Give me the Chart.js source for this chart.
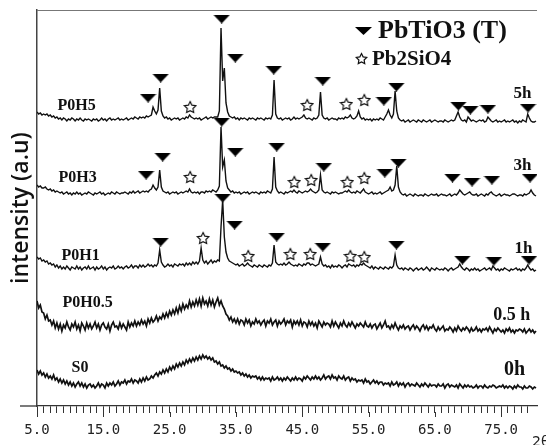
<!DOCTYPE html>
<html>
<head>
<meta charset="utf-8">
<script src="https://cdn.jsdelivr.net/npm/chart.js@4.4.1/dist/chart.umd.min.js"></script>
<style>
  html, body { margin: 0; padding: 0; background: #fff; }
  #xrd { display: block; }
</style>
</head>
<body>
<canvas id="xrd" width="546" height="445"></canvas>
<script>
// 2theta grid, 0.25 deg steps from 5.0
var twoTheta = [];
for (var i = 0; i < 302; i++) twoTheta.push(5 + i * 0.25);

var sampleNames = ['S0', 'P0H0.5', 'P0H1', 'P0H3', 'P0H5'];
var timeLabels = ['0h', '0.5 h', '1h', '3h', '5h'];
// vertical stacking of the patterns (a.u.)
var offsets = [21, 81, 139, 213, 287];

// intensities above each baseline
var s0 = [
  15,11,14,10, 12,8,11,7, 9,6,10,5, 7,3,6,2, 5,1,4,0,
  3,-1,2,-2, 1,3,-1,2, -2,1,-3,0, 1,-2,0,-3, -1,2,-2,1,
  0,-3,2,-1, 2,0,3,-1, 1,4,0,3, 2,5,1,4, 3,6,2,5,
  4,2,6,3, 7,4,8,5, 6,9,7,10, 12,9,13,11, 15,12,16,13,
  18,15,19,16, 21,18,22,19, 23,20,25,22, 26,23,27,24, 28,25,29,26,
  30,27,29,26, 28,25,27,23, 24,21,23,19, 20,17,19,16, 17,14,16,13,
  14,12,13,10, 12,9,11,8, 10,7,9,8, 9,6,8,5, 8,5,7,6,
  7,4,8,5, 6,8,5,7, 4,7,5,8, 6,4,7,5, 8,5,7,6,
  4,8,6,9, 7,5,8,6, 9,6,8,5, 7,10,6,8, 9,6,10,7,
  8,5,9,7, 6,9,5,7, 8,4,7,5, 6,3,5,4, 5,2,6,3,
  4,1,3,5, 2,4,1,3, 3,0,2,1, 2,-1,3,0, 1,3,-1,2,
  0,2,-2,1, 2,-1,1,0, -1,2,0,-2, 1,-1,2,0, -2,1,-1,0,
  0,-2,1,-1, -1,1,-3,0, 1,-2,0,-1, -2,0,-3,1, -1,-3,0,-2,
  0,-2,-1,-3, -2,0,-3,-1, -1,-3,0,-2, -3,-1,-2,0, -1,-3,-2,-1,
  -2,0,-3,-1, -3,-1,-2,-4, -1,-3,0,-2, -2,-4,-1,-3, -3,-1,-2,-4,
  -2,-3
];
var p0h05 = [
  24,17,20,13, 12,6,10,4, 5,0,4,-3, 2,-4,1,-6, 0,-3,3,-2,
  -5,1,-2,3, -4,0,-6,2, -1,-5,2,-3, 1,-4,-1,3, -3,1,-5,0,
  2,-2,-4,1, -6,0,3,-2, -1,-4,2,-3, 1,-2,-5,3, -2,2,-1,4,
  -1,3,0,5, 1,4,-1,6, 2,7,3,5, 9,4,8,6, 11,7,12,8,
  14,10,15,11, 17,12,19,14, 21,16,20,17, 24,18,23,19, 25,20,26,19,
  27,21,24,19, 26,20,25,18, 23,27,20,24, 19,16,11,9, 5,8,3,6,
  2,6,1,5, 4,0,6,2, 5,-1,3,1, 6,2,4,0, 3,5,-1,4,
  2,6,0,3, 5,-1,4,1, 3,6,0,4, 2,5,-2,4, 1,4,0,5,
  -1,3,2,-2, 4,0,3,-1, 2,-3,4,1, -2,3,0,2, 1,-2,4,-1,
  3,0,-3,2, -1,4,0,-2, 2,-1,3,0, -3,1,-1,2, 0,-2,3,-1,
  -2,1,-3,0, 1,-4,-1,2, -3,0,4,-2, -1,-4,0,-3, 2,-2,-5,-1,
  -3,0,-4,-2, -1,-5,-2,0, -4,-1,-3,-6, -2,0,-4,-1, -5,-2,-3,0,
  -4,-6,-2,-5, -3,-1,-6,-4, -5,-2,-4,-7, -3,-6,-1,-4, -6,-3,-5,-2,
  -4,-7,-3,-6, -5,-2,-6,-4, -7,-4,-5,-3, -6,-2,-5,-8, -4,-6,-3,-5,
  -7,-5,-8,-4, -6,-3,-7,-5, -8,-5,-6,-4, -5,-7,-4,-8, -6,-4,-7,-5,
  -8,-6
];
var p0h1 = [
  10,8,9,6, 7,5,6,3, 4,2,3,0, 2,-1,1,-2, 0,-2,1,-1,
  -3,0,-1,-2, 1,-2,0,-3, -1,0,-2,1, -2,-1,0,-3, 0,-2,-1,1,
  -2,0,-3,-1, 0,-1,1,-2, -1,1,-1,0, -2,0,1,-1, 0,2,-1,1,
  1,-1,2,0, 2,0,1,3, 1,2,0,2, 1,4,17,5, 2,0,1,3,
  1,2,0,3, 2,1,3,2, 3,1,4,2, 4,2,5,3, 5,3,6,19,
  7,4,6,3, 5,7,4,6, 5,7,6,40, 67,30,15,9, 6,5,4,3,
  2,3,1,2, 3,1,2,4, 2,1,0,2, 1,0,2,1, 0,2,1,0,
  2,1,4,22, 5,3,2,3, 2,4,2,3, 5,3,2,1, 2,1,3,2,
  1,3,2,4, 4,2,3,2, 1,2,3,10, 3,1,2,0, 1,-1,2,0,
  1,0,2,1, -1,1,2,0, 3,2,1,2, 0,2,1,3, 2,4,2,1,
  0,-1,1,-2, 0,-1,-2,0, -1,-2,0,-1, -2,0,-1,1, 12,2,-1,-2,
  -1,-3,-1,-2, -3,-1,-2,-4, -2,-1,-3,-2, -1,-3,-2,0, -2,-4,-1,-2,
  -3,-1,-2,-3, -2,-3,-1,-2, -4,-2,-1,-3, -2,-1,0,3, 0,-2,-3,-1,
  -2,-4,-2,-3, -1,-3,-2,-4, -3,-2,-1,-3, -2,-1,-3,1, -1,-3,-2,-4,
  -2,-3,-1,-2, -3,-4,-2,-3, -2,-1,-3,-2, -4,-2,-3,-1, 2,-1,-3,-2,
  -4,-3
];
var p0h3 = [
  8,6,7,5, 5,6,4,3, 4,2,3,1, 2,1,0,1, -1,0,1,-1,
  0,-2,0,-1, 1,-1,0,-2, -1,0,-1,1, 0,-1,-2,0, -1,0,1,-1,
  0,-2,-1,0, -1,1,0,-1, 1,0,-1,0, 0,1,0,-1, 1,0,2,0,
  1,2,0,1, 2,1,2,1, 3,4,8,5, 3,6,23,6, 2,1,0,1,
  -1,0,1,0, 1,-1,0,1, 0,1,2,1, 4,1,0,1, 0,1,-1,1,
  1,0,2,1, 2,1,3,2, 1,3,7,66, 26,33,12,5, 3,1,2,0,
  1,0,1,-1, 0,1,0,1, -1,0,1,0, 1,0,-1,1, 0,1,0,2,
  1,0,4,36, 6,2,0,1, 0,-1,1,0, 1,2,1,3, 1,0,2,1,
  0,1,2,1, 2,4,2,1, 0,1,3,18, 3,1,0,1, 0,-1,1,0,
  1,0,-1,0, 0,1,2,1, 3,1,0,1, 0,2,1,0, 2,4,1,0,
  -1,0,1,-1, 0,-1,0,1, -1,0,1,2, 3,6,2,3, 8,27,6,1,
  -1,-2,-1,-3, -2,-1,-2,-3, -1,-2,-3,-2, -2,-3,-1,-2, -3,-2,-1,-2,
  -2,-1,-3,-2, -1,-2,-2,-3, -2,-1,-3,-2, -1,-2,0,3, 1,-1,-2,-1,
  0,1,-1,-2, -2,-1,-3,-2, -1,-2,-3,-1, -2,0,1,-1, -2,-3,-2,-1,
  -3,-2,-1,-2, -2,-3,-2,-1, -1,-2,-3,-2, -2,-3,-1,-2, -1,0,3,0,
  -2,-3
];
var p0h5 = [
  7,5,6,4, 5,4,5,3, 4,2,3,1, 2,0,1,-1, 1,0,-2,0,
  -1,1,0,-2, 0,-1,1,-1, -2,0,-1,0, -1,-2,0,-1, 0,-2,-1,1,
  -1,0,-2,0, 1,-1,0,-1, 0,1,-1,0, -1,0,1,-1, 0,1,0,2,
  1,0,2,1, 2,1,3,2, 3,4,12,8, 5,9,31,8, 3,1,2,0,
  1,-1,0,1, 0,1,-1,0, 1,0,2,1, 4,2,1,0, 1,0,1,-1,
  0,1,2,0, 1,2,1,2, 2,2,8,91, 38,51,16,7, 3,2,1,2,
  0,1,-1,1, 0,1,0,-1, 1,0,1,0, -1,1,0,1, 0,-1,1,0,
  1,0,4,39, 5,1,0,1, -1,0,1,0, 1,-1,0,2, 0,1,0,1,
  2,4,1,0, 1,0,-1,1, 0,1,4,27, 4,1,0,1, -1,0,1,0,
  0,-1,1,0, 1,0,2,1, 2,4,1,0, 1,3,8,2, 0,1,-1,0,
  -1,0,-2,0, -1,0,-1,1, 0,-1,2,5, 9,4,1,5, 28,8,1,-1,
  -2,-1,-3,-2, -1,-3,-2,-1, -2,-3,-1,-2, -3,-1,-2,-3, -2,-1,-3,-2,
  -1,-2,-3,-2, -2,-3,-1,-2, -3,-2,-1,-2, -1,3,7,2, -1,-2,-1,-3,
  2,0,-2,-1, -2,-3,-2,-1, -2,-1,-3,-2, 2,0,-2,-3, -2,-1,-3,-2,
  -3,-2,-1,-3, -2,-3,-2,-1, -3,-2,-4,-2, -3,-1,-2,-3, 5,1,-2,-3,
  -3,-2
];
var patterns = [s0, p0h05, p0h1, p0h3, p0h5];

// phase markers [2theta, height above baseline]
var triP0H1 = [[23.65,25],[33.0,69],[34.8,42],[41.15,30],[48.1,20],[59.2,22],[69.15,7],[73.9,6],[79.2,7]];
var starP0H1 = [[30.05,29],[36.85,11],[43.2,13],[46.2,13],[52.25,11],[54.35,10]];
var triP0H3 = [[21.45,18],[23.95,36],[32.85,71],[34.9,41],[41.15,46],[48.25,26],[57.45,20],[59.5,30],[67.65,15],[70.6,11],[73.6,13],[79.35,15]];
var starP0H3 = [[28.1,16],[43.8,11],[46.35,13],[51.8,11],[54.35,15]];
var triP0H5 = [[21.75,21],[23.65,41],[32.85,100],[34.9,61],[40.7,49],[48.1,38],[57.3,18],[59.2,32],[68.55,13],[70.35,9],[73.0,10],[79.05,11]];
var starP0H5 = [[28.1,12],[45.75,14],[51.65,15],[54.35,19]];

// where the sample / time labels sit [2theta, height above baseline]
var namePos = [[10.2,13],[8.85,18],[8.7,7],[8.25,11],[8.1,9]];
var timePos = [[78.6,10],[79.4,5],[79.7,14],[79.55,23],[79.55,21]];

function makeTriangle(w, h) {
  var c = document.createElement('canvas');
  c.width = w; c.height = h;
  var g = c.getContext('2d');
  g.fillStyle = '#000';
  g.beginPath();
  g.moveTo(0, 0); g.lineTo(w, 0); g.lineTo(w / 2, h);
  g.closePath();
  g.fill();
  return c;
}
function makeStar(size) {
  var c = document.createElement('canvas');
  c.width = size; c.height = size;
  var g = c.getContext('2d');
  var cx = size / 2, cy = size / 2 + 0.6, ro = size / 2 - 1, ri = ro * 0.5;
  g.beginPath();
  for (var k = 0; k < 10; k++) {
    var r = k % 2 ? ri : ro;
    var a = -Math.PI / 2 + k * Math.PI / 5;
    g.lineTo(cx + r * Math.cos(a), cy + r * Math.sin(a));
  }
  g.closePath();
  g.fillStyle = '#fff'; g.fill();
  g.lineWidth = 1.2; g.strokeStyle = '#111'; g.stroke();
  return c;
}
var triImg = makeTriangle(17, 9);
var starImg = makeStar(14);
var legendTri = makeTriangle(17, 8);
var legendStar = makeStar(13);

var datasets = [];
patterns.forEach(function (vals, k) {
  datasets.push({
    label: sampleNames[k],
    data: twoTheta.map(function (t, i) { return {x: t, y: vals[i] + offsets[k]}; }),
    showLine: true,
    borderColor: '#111',
    borderWidth: k < 2 ? 1.7 : 1.4,
    pointRadius: 0,
    tension: 0
  });
});
function markerSet(list, k, img) {
  return {
    data: list.map(function (p) { return {x: p[0], y: p[1] + offsets[k]}; }),
    showLine: false,
    pointStyle: img,
    pointRadius: 5
  };
}
datasets.push(markerSet(triP0H1, 2, triImg), markerSet(starP0H1, 2, starImg));
datasets.push(markerSet(triP0H3, 3, triImg), markerSet(starP0H3, 3, starImg));
datasets.push(markerSet(triP0H5, 4, triImg), markerSet(starP0H5, 4, starImg));

var overlay = {
  id: 'overlay',
  afterDraw: function (chart) {
    var ctx = chart.ctx, a = chart.chartArea, x = chart.scales.x, y = chart.scales.y;
    ctx.save();
    // top frame line
    ctx.strokeStyle = '#777'; ctx.lineWidth = 1;
    ctx.beginPath(); ctx.moveTo(a.left, a.top + 0.5); ctx.lineTo(a.right, a.top + 0.5); ctx.stroke();
    // x axis runs a bit past the y axis
    ctx.strokeStyle = '#333'; ctx.lineWidth = 1.3;
    ctx.beginPath(); ctx.moveTo(20, a.bottom); ctx.lineTo(a.left, a.bottom); ctx.stroke();
    // longer major ticks
    ctx.lineWidth = 1;
    for (var v = 5; v <= 75; v += 10) {
      var px = Math.round(x.getPixelForValue(v)) + 0.5;
      ctx.beginPath(); ctx.moveTo(px, a.bottom + 6); ctx.lineTo(px, a.bottom + 11); ctx.stroke();
    }
    ctx.fillStyle = '#111';
    ctx.textBaseline = 'alphabetic';
    // sample names
    ctx.textAlign = 'left';
    ctx.font = 'bold 16px "Liberation Serif"';
    sampleNames.forEach(function (n, k) {
      ctx.fillText(n, x.getPixelForValue(namePos[k][0]), y.getPixelForValue(namePos[k][1] + offsets[k]));
    });
    // heating times
    ctx.textAlign = 'right';
    var tSizes = [20, 18, 17, 17, 17];
    timeLabels.forEach(function (n, k) {
      ctx.font = 'bold ' + tSizes[k] + 'px "Liberation Serif"';
      ctx.fillText(n, x.getPixelForValue(timePos[k][0]), y.getPixelForValue(timePos[k][1] + offsets[k]));
    });
    // phase legend
    ctx.textAlign = 'left';
    ctx.drawImage(legendTri, 355, 27);
    ctx.font = 'bold 26px "Liberation Serif"';
    ctx.fillText('PbTiO3 (T)', 378, 38);
    ctx.drawImage(legendStar, 355, 52);
    ctx.font = 'bold 21px "Liberation Serif"';
    ctx.fillText('Pb2SiO4', 372, 65);
    // axis symbol, clipped by the right edge
    ctx.font = '14px "DejaVu Sans"';
    ctx.fillStyle = '#222';
    ctx.fillText('2θ', 532, 446);
    ctx.restore();
  }
};

new Chart(document.getElementById('xrd'), {
  type: 'scatter',
  data: {datasets: datasets},
  options: {
    responsive: false,
    animation: false,
    layout: {padding: {top: 10, right: 0, left: 0, bottom: 0}},
    plugins: {legend: {display: false}, tooltip: {enabled: false}},
    scales: {
      x: {
        type: 'linear',
        min: 5,
        max: 80.4,
        afterFit: function (s) { s.height = 39; },
        ticks: {
          stepSize: 1,
          autoSkip: false,
          maxRotation: 0,
          padding: 9,
          color: '#222',
          font: {family: 'DejaVu Sans Mono', size: 14},
          callback: function (v) {
            var r = Math.round(v);
            return (Math.abs(v - r) < 1e-6 && (r - 5) % 10 === 0) ? r.toFixed(1) : '';
          }
        },
        grid: {
          drawOnChartArea: false,
          tickLength: 7,
          tickColor: function (c) {
            var v = c.tick ? c.tick.value : 0;
            return Math.abs(v - Math.round(v)) < 1e-6 ? '#333' : 'rgba(0,0,0,0)';
          }
        },
        border: {display: true, color: '#333', width: 1.3}
      },
      y: {
        min: 0,
        max: 396,
        afterFit: function (s) { s.width = 37; },
        ticks: {display: false},
        grid: {drawOnChartArea: false, drawTicks: false},
        border: {display: true, color: '#444', width: 1.5},
        title: {
          display: true,
          text: 'intensity (a.u)',
          color: '#111',
          font: {family: 'Open Sans', size: 23, weight: '600'},
          padding: {top: 8, bottom: 0}
        }
      }
    }
  },
  plugins: [overlay]
});
</script>
</body>
</html>
